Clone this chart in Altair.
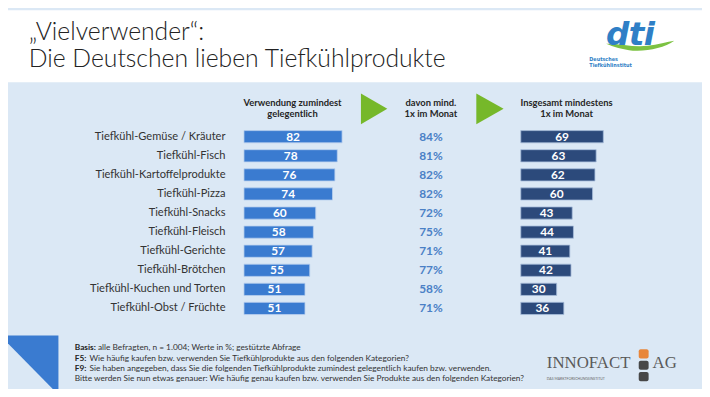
import altair as alt
import pandas as pd

# ---------------- data ----------------
categories = [
    "Tiefkühl-Gemüse / Kräuter", "Tiefkühl-Fisch", "Tiefkühl-Kartoffelprodukte",
    "Tiefkühl-Pizza", "Tiefkühl-Snacks", "Tiefkühl-Fleisch", "Tiefkühl-Gerichte",
    "Tiefkühl-Brötchen", "Tiefkühl-Kuchen und Torten", "Tiefkühl-Obst / Früchte",
]
gelegentlich = [82, 78, 76, 74, 60, 58, 57, 55, 51, 51]
davon_monat = [84, 81, 82, 82, 72, 75, 71, 77, 58, 71]
insgesamt_monat = [69, 63, 62, 60, 43, 44, 41, 42, 30, 36]

header_left = ["Verwendung zumindest", "gelegentlich"]
header_mid = ["davon mind.", "1x im Monat"]
header_right = ["Insgesamt mindestens", "1x im Monat"]
title_lines = ["„Vielverwender“:", "Die Deutschen lieben Tiefkühlprodukte"]
footer_prefix = ["Basis:", "F5:", "F9:", ""]
footer_rest = [
    "alle Befragten, n = 1.004; Werte in %; gestützte Abfrage",
    "Wie häufig kaufen bzw. verwenden Sie Tiefkühlprodukte aus den folgenden Kategorien?",
    "Sie haben angegeben, dass Sie die folgenden Tiefkühlprodukte zumindest gelegentlich kaufen bzw. verwenden.",
    "Bitte werden Sie nun etwas genauer: Wie häufig genau kaufen bzw. verwenden Sie Produkte aus den folgenden Kategorien?",
]

# ---------------- styling ----------------
W, H = 702, 381
PANEL = "#dbe8f5"
BLUE = "#3a7bd0"
NAVY = "#2c4a7b"
PCT = "#4a80c6"
GREEN = "#76b82a"
FONT = "Lato"

df = pd.DataFrame({
    "cat": categories,
    "g": gelegentlich,
    "d": davon_monat,
    "m": insgesamt_monat,
})
df["pct"] = df["d"].astype(str) + "%"
one = pd.DataFrame({"a": [0]})

yscale = alt.Scale(domain=categories, range=[118.35, 311.35], paddingInner=0.36, paddingOuter=0.18)
Y = alt.Y("cat:N", scale=yscale, axis=None, sort=categories)
scaleL = alt.Scale(domain=[0, 100], range=[238.7, 359.7], zero=True, nice=False)
scaleR = alt.Scale(domain=[0, 100], range=[518.7, 639.7], zero=True, nice=False)

base = alt.Chart(df)
dec = alt.Chart(one)

layers = []

# white header band
layers.append(dec.mark_rect(color="white").encode(
    x=alt.value(0), x2=alt.value(W), y=alt.value(0), y2=alt.value(73)))


def shape(path, color):
    return dec.mark_point(shape=path, size=4, filled=True, color=color, opacity=1,
                          strokeWidth=0).encode(x=alt.value(0), y=alt.value(0))


# green arrows
layers.append(shape("M 357 84.3 L 383.7 99.8 L 357 115.3 Z", GREEN))
layers.append(shape("M 473.7 84.3 L 501.3 99.8 L 473.7 115.3 Z", GREEN))
# footer blue triangle
layers.append(shape("M -8 329 L 51 329 L 51 389 Z", BLUE))
# dti swoosh
layers.append(shape("M 605 34 C 617 33 632 38 647 36 C 657 35 667 32 674 31 "
                    "C 664 38 647 42 632 41 C 622 40 612 37 605 34 Z", "#7cc242"))

# title
for i, t in enumerate(title_lines):
    layers.append(dec.mark_text(text=t, align="left", baseline="middle", font=FONT,
                                fontSize=25, fontWeight=300, color="#222222").encode(
        x=alt.value(21), y=alt.value(22 + 27 * i)))

# dti logo wordmark
for ch, lx in [("d", 605), ("t", 628), ("i", 643)]:
    layers.append(dec.mark_text(text=ch, align="left", baseline="alphabetic", font="DejaVu Sans",
                                fontSize=33, fontWeight="bold", fontStyle="italic", color="#2f7fc6").encode(
        x=alt.value(lx), y=alt.value(35)))
for i, t in enumerate(["Deutsches", "Tiefkühlinstitut"]):
    layers.append(dec.mark_text(text=t, align="left", baseline="middle", font="DejaVu Sans Condensed",
                                fontSize=5.5, fontWeight="bold", color="#2f7fc6").encode(
        x=alt.value(588), y=alt.value(49 + 6.5 * i)))

# headers
for cx, lines in [(287.8, header_left), (427.8, header_mid), (565, header_right)]:
    for i, t in enumerate(lines):
        layers.append(dec.mark_text(text=t, align="center", baseline="middle", font=FONT,
                                    fontSize=9.5, fontWeight="bold", color="#262626").encode(
            x=alt.value(cx), y=alt.value(93.7 + 11.6 * i)))

# category labels
layers.append(base.mark_text(align="right", baseline="middle", font=FONT, fontSize=11.2,
                             color="#333333").encode(y=Y, x=alt.value(220), text="cat:N"))

# left bars
layers.append(base.mark_bar(color=BLUE, stroke="#b9d0ee", strokeWidth=0.8).encode(
    y=Y, x=alt.X("g:Q", scale=scaleL, axis=None)))
layers.append(base.transform_calculate(gm="datum.g / 2").mark_text(
    align="center", baseline="middle", font=FONT, fontSize=12, fontWeight="bold", color="white").encode(
    y=Y, x=alt.X("gm:Q", scale=scaleL, axis=None), text="g:Q"))

# percentage column
layers.append(base.mark_text(align="center", baseline="middle", font=FONT, fontSize=12,
                             fontWeight="bold", color=PCT).encode(
    y=Y, x=alt.value(427.8), text="pct:N"))

# right bars
layers.append(base.mark_bar(color=NAVY, stroke="#a9bedb", strokeWidth=0.8).encode(
    y=Y, x=alt.X("m:Q", scale=scaleR, axis=None)))
layers.append(base.transform_calculate(mm="datum.m / 2").mark_text(
    align="center", baseline="middle", font=FONT, fontSize=12, fontWeight="bold", color="white").encode(
    y=Y, x=alt.X("mm:Q", scale=scaleR, axis=None), text="m:Q"))

# footer text
fy = [341, 351.5, 362, 372]
rest_x = [91, 82.5, 82.5, 67.5]
for i in range(4):
    if footer_prefix[i]:
        layers.append(dec.mark_text(text=footer_prefix[i], align="left", baseline="middle", font=FONT,
                                    fontSize=8.4, fontWeight="bold", color="#222222").encode(
            x=alt.value(67.5), y=alt.value(fy[i])))
    layers.append(dec.mark_text(text=footer_rest[i], align="left", baseline="middle", font=FONT,
                                fontSize=8.4, color="#333333").encode(
        x=alt.value(rest_x[i]), y=alt.value(fy[i])))

# INNOFACT logo
layers.append(dec.mark_text(text="INNOFACT", align="left", baseline="alphabetic", font="Liberation Serif",
                            fontSize=17, color="#5a5a5a").encode(x=alt.value(545), y=alt.value(362)))
layers.append(dec.mark_text(text="AG", align="left", baseline="alphabetic", font="Liberation Serif",
                            fontSize=17, color="#5a5a5a").encode(x=alt.value(652), y=alt.value(362)))
layers.append(dec.mark_text(text="DAS MARKTFORSCHUNGSINSTITUT", align="left", baseline="middle", font=FONT,
                            fontSize=3.5, color="#666666").encode(x=alt.value(545), y=alt.value(373)))
for (y0, y1, c) in [(343, 352.3, "#e8863a"), (354.7, 363.7, "#474747"), (366, 375.3, "#474747")]:
    layers.append(dec.mark_rect(color=c, cornerRadius=2).encode(
        x=alt.value(638), x2=alt.value(648), y=alt.value(y0), y2=alt.value(y1)))

chart = alt.layer(*layers).resolve_scale(x="independent").properties(
    width=W, height=H, background=PANEL, padding=0,
    autosize=alt.AutoSizeParams(type="none"),
).configure_view(stroke=None)

chart.save("out.html", embed_options={"renderer": "svg", "actions": False})
